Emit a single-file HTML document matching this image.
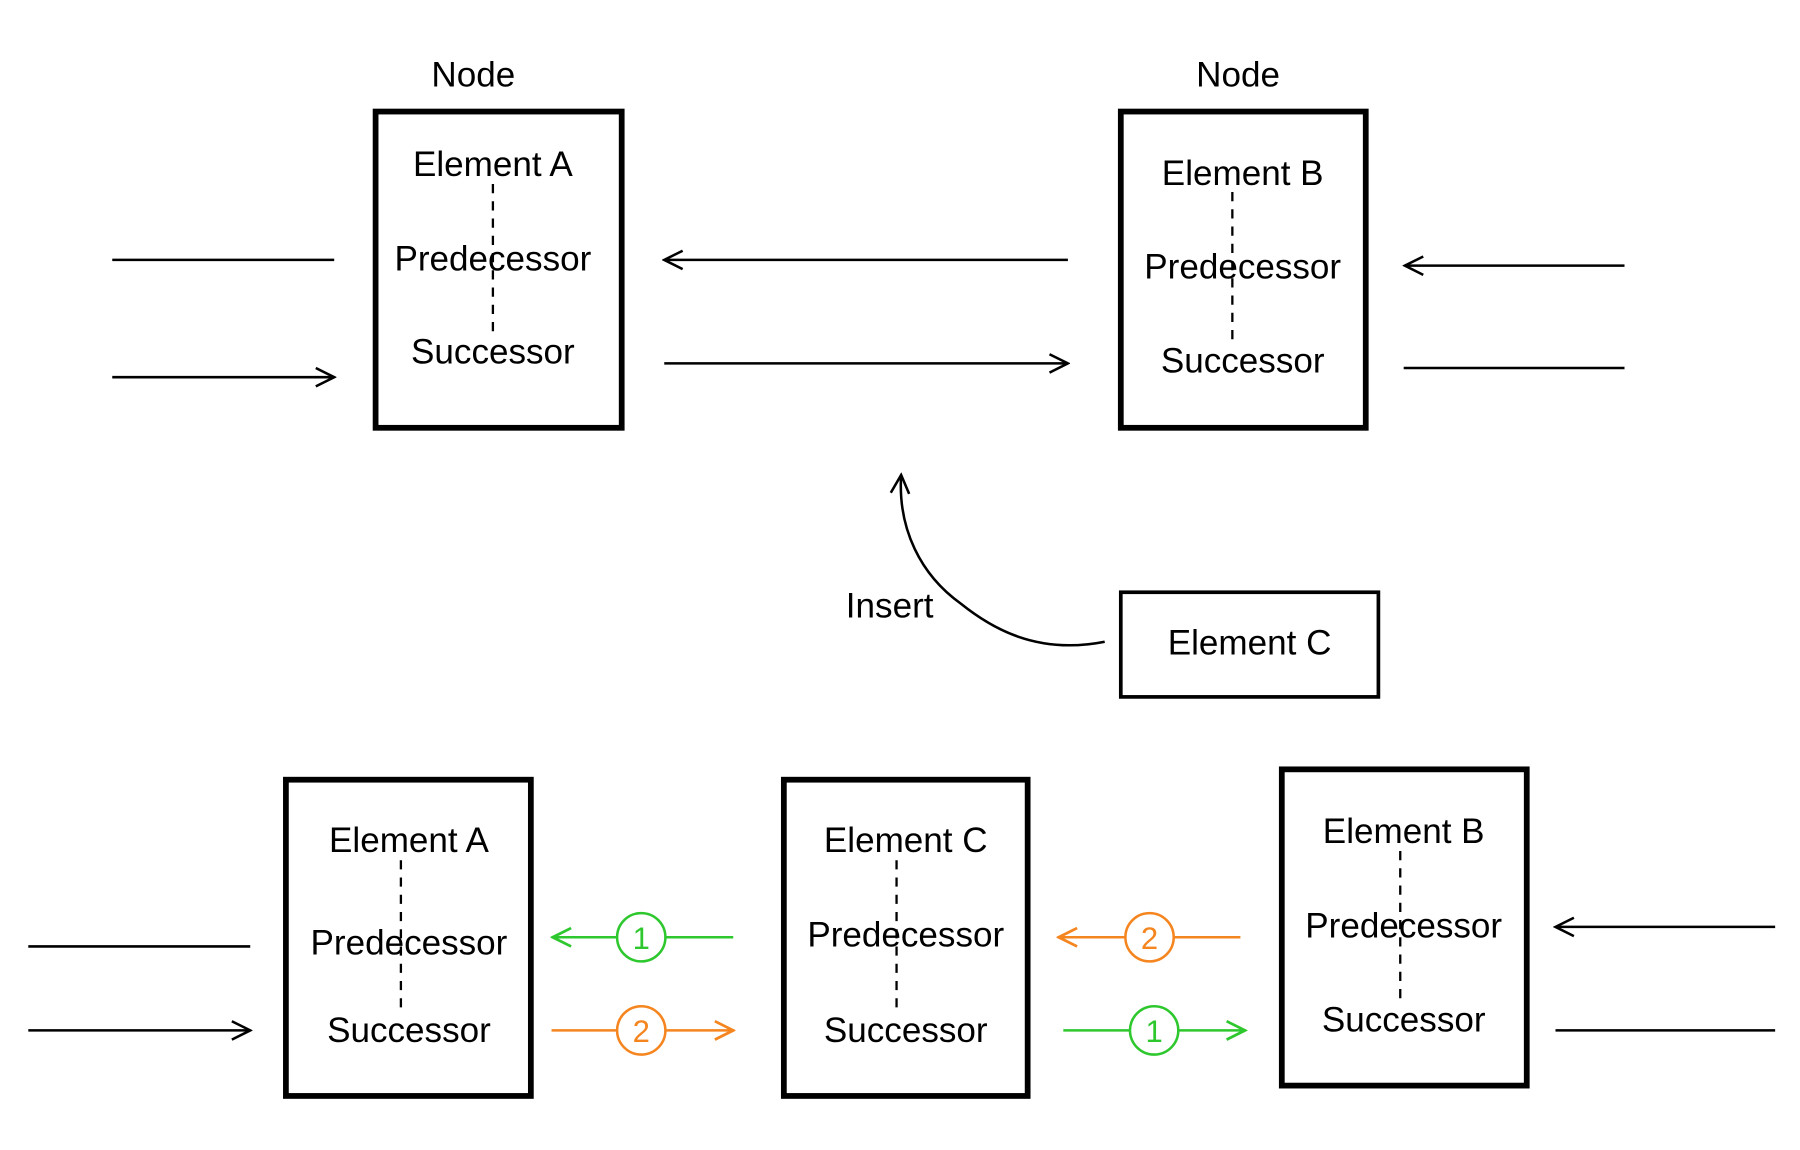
<!DOCTYPE html>
<html><head><meta charset="utf-8"><style>html,body{margin:0;padding:0;background:#fff}svg{display:block}</style></head>
<body>
<svg width="1800" height="1150" viewBox="0 0 1564 1000" xmlns="http://www.w3.org/2000/svg" font-family="Liberation Sans, sans-serif" font-size="30.5" text-anchor="middle">
<defs>
<marker id="ak" viewBox="0 0 20 20" refX="18" refY="10" markerWidth="20" markerHeight="20" markerUnits="userSpaceOnUse" orient="auto"><path d="M2,2 L18,10 L2,18" fill="none" stroke="#000" stroke-width="2.2"/></marker>
<marker id="ag" viewBox="0 0 20 20" refX="18" refY="10" markerWidth="20" markerHeight="20" markerUnits="userSpaceOnUse" orient="auto"><path d="M2,2 L18,10 L2,18" fill="none" stroke="#2ec82e" stroke-width="2.4"/></marker>
<marker id="ao" viewBox="0 0 20 20" refX="18" refY="10" markerWidth="20" markerHeight="20" markerUnits="userSpaceOnUse" orient="auto"><path d="M2,2 L18,10 L2,18" fill="none" stroke="#f5851f" stroke-width="2.4"/></marker>
</defs>
<g fill="none" stroke="#000">
<rect x="326" y="97" width="214" height="275" stroke-width="5"/>
<rect x="974" y="97" width="213" height="275" stroke-width="5"/>
<rect x="974" y="515" width="224" height="91" stroke-width="3.2"/>
<rect x="248" y="678" width="213" height="275" stroke-width="5"/>
<rect x="681" y="678" width="212" height="275" stroke-width="5"/>
<rect x="1114" y="669" width="213" height="275" stroke-width="5"/>
<g stroke-width="2" stroke-dasharray="8,7">
<path d="M428 160V295M1071 167V302M348 748V880M779 748V880M1217 740V872"/>
</g>
<g stroke-width="2.2">
<path d="M97 226H290"/>
<path d="M97 328H290" marker-end="url(#ak)"/>
<path d="M928 226H577" marker-end="url(#ak)"/>
<path d="M577 316H928" marker-end="url(#ak)"/>
<path d="M1412 231H1221" marker-end="url(#ak)"/>
<path d="M1220 320H1412"/>
<path d="M960 558C900 570 860 545 835 525C800 500 780 460 783 413" marker-end="url(#ak)"/>
<path d="M24 823H217"/>
<path d="M24 896H217" marker-end="url(#ak)"/>
<path d="M1543 806H1352" marker-end="url(#ak)"/>
<path d="M1352 896H1543"/>
</g>
<g stroke-width="2.2">
<path d="M637 815H480" stroke="#2ec82e" marker-end="url(#ag)"/>
<path d="M479 896H637" stroke="#f5851f" marker-end="url(#ao)"/>
<path d="M1078 815H920" stroke="#f5851f" marker-end="url(#ao)"/>
<path d="M924 896H1082" stroke="#2ec82e" marker-end="url(#ag)"/>
<circle cx="557" cy="815" r="21" fill="#fff" stroke="#2ec82e"/>
<circle cx="557" cy="896" r="21" fill="#fff" stroke="#f5851f"/>
<circle cx="999" cy="815" r="21" fill="#fff" stroke="#f5851f"/>
<circle cx="1003" cy="896" r="21" fill="#fff" stroke="#2ec82e"/>
</g>
</g>
<g fill="#000">
<text x="411" y="75">Node</text><text x="1076" y="75">Node</text>
<text x="428" y="153">Element A</text><text x="428" y="235">Predecessor</text><text x="428" y="316">Successor</text>
<text x="1080" y="161">Element B</text><text x="1080" y="242">Predecessor</text><text x="1080" y="324">Successor</text>
<text x="773" y="537">Insert</text><text x="1086" y="569">Element C</text>
<text x="355" y="741">Element A</text><text x="355" y="830">Predecessor</text><text x="355" y="906">Successor</text>
<text x="787" y="741">Element C</text><text x="787" y="823">Predecessor</text><text x="787" y="906">Successor</text>
<text x="1220" y="733">Element B</text><text x="1220" y="815">Predecessor</text><text x="1220" y="897">Successor</text>
</g>
<g font-size="27">
<text x="557" y="825" fill="#2ec82e">1</text>
<text x="557" y="906" fill="#f5851f">2</text>
<text x="999" y="825" fill="#f5851f">2</text>
<text x="1003" y="906" fill="#2ec82e">1</text>
</g>
</svg>
</body></html>
